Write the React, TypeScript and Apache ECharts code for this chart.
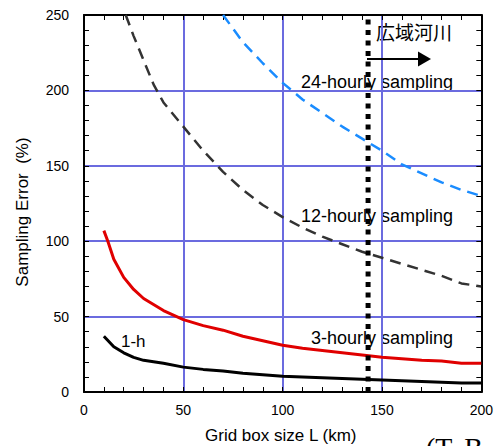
import React, { useEffect, useRef } from "react";
import * as echarts from "echarts";

const xTicks = [0, 50, 100, 150, 200];
const yTicks = [0, 50, 100, 150, 200, 250];

const h1X = [10, 15, 20, 25, 30, 40, 50, 60, 70, 80, 90, 100, 110, 120, 130, 140, 150, 160, 170, 180, 190, 200];
const h1Y = [37, 30, 26, 23, 21, 19, 16.5, 15, 14, 12.5, 11.5, 10.5, 10, 9.5, 9, 8.5, 8, 7.5, 7, 6.5, 6, 6];

const h3X = [10, 12, 15, 20, 25, 30, 40, 50, 60, 70, 80, 90, 100, 110, 120, 130, 140, 150, 160, 170, 180, 190, 200];
const h3Y = [107, 100, 88, 76, 68, 62, 54, 48, 44, 41, 37, 34, 31, 29, 27.5, 26, 24.5, 23, 22, 21, 20.5, 19, 19];

const h12X = [21, 25, 30, 35, 40, 50, 60, 70, 80, 90, 100, 110, 120, 130, 140, 150, 160, 170, 180, 190, 200];
const h12Y = [250, 236, 220, 204, 192, 176, 160, 146, 134, 124, 116, 109, 103, 98, 93, 89, 85, 81, 77, 72, 70];

const h24X = [70, 80, 90, 100, 110, 120, 130, 140, 150, 160, 170, 180, 190, 200];
const h24Y = [250, 232, 218, 205, 194, 185, 176, 168, 160, 151, 145, 139, 134, 130];

const boundaryX = 143;
const seriesLabels = ["24-hourly sampling", "12-hourly sampling", "3-hourly sampling", "1-h"];
const regionLabel = "広域河川";

const zip = (xs: number[], ys: number[]) => xs.map((x, i) => [x, ys[i]]);

export default function App() {
  const ref = useRef<HTMLDivElement>(null);
  useEffect(() => {
    if (!ref.current) return;
    const chart = echarts.init(ref.current, null, { renderer: "svg" });
    const font = "Arial, 'Liberation Sans', sans-serif";
    const gridBlue = "#6b6bdf";
    const axisCommon = {
      min: 0,
      type: "value" as const,
      interval: 50,
      axisLine: { show: true, onZero: false, lineStyle: { color: "#000", width: 2 } },
      axisTick: { show: true, inside: true, length: 5, lineStyle: { color: "#000", width: 1 } },
      minorTick: { show: true, splitNumber: 5, length: 5, lineStyle: { color: "#000", width: 1 } },
    };
    chart.setOption({
      animation: false,
      backgroundColor: "#fff",
      grid: { left: 84, top: 15, right: 11, bottom: 54 },
      xAxis: [
        {
          ...axisCommon,
          max: 200,
          position: "bottom",
          axisLabel: { fontSize: 14, color: "#000", fontFamily: font, margin: 11 },
          splitLine: { show: true, lineStyle: { color: gridBlue, width: 2 } },
        },
        {
          ...axisCommon,
          max: 200,
          position: "top",
          axisLabel: { show: false },
          splitLine: { show: false },
        },
      ],
      yAxis: [
        {
          ...axisCommon,
          max: 250,
          position: "left",
          axisLabel: { fontSize: 14, color: "#000", fontFamily: font, margin: 15 },
          splitLine: { show: true, lineStyle: { color: gridBlue, width: 2 } },
        },
        {
          ...axisCommon,
          max: 250,
          position: "right",
          axisLabel: { show: false },
          splitLine: { show: false },
        },
      ],
      series: [
        {
          type: "line",
          data: zip(h24X, h24Y),
          showSymbol: false,
          lineStyle: { color: "#1a8cff", width: 2.5, type: [11, 7] },
        },
        {
          type: "line",
          data: zip(h12X, h12Y),
          showSymbol: false,
          lineStyle: { color: "#333333", width: 2.5, type: [11, 7] },
        },
        {
          type: "line",
          data: zip(h3X, h3Y),
          showSymbol: false,
          lineStyle: { color: "#e00000", width: 3 },
        },
        {
          type: "line",
          data: zip(h1X, h1Y),
          showSymbol: false,
          lineStyle: { color: "#000", width: 3 },
        },
        {
          type: "line",
          data: [
            [boundaryX, 0],
            [boundaryX, 250],
          ],
          showSymbol: false,
          z: 5,
          lineStyle: { color: "#000", width: 5, type: [5, 5.5] },
        },
      ],
      graphic: [
        {
          type: "text",
          right: 496 - 453,
          top: 73,
          style: { text: seriesLabels[0], fontSize: 18, fontFamily: font, fill: "#000" },
        },
        {
          type: "text",
          right: 496 - 453,
          top: 207,
          style: { text: seriesLabels[1], fontSize: 18, fontFamily: font, fill: "#000" },
        },
        {
          type: "text",
          right: 496 - 453,
          top: 329,
          style: { text: seriesLabels[2], fontSize: 18, fontFamily: font, fill: "#000" },
        },
        {
          type: "text",
          left: 121,
          top: 333,
          style: { text: seriesLabels[3], fontSize: 17, fontFamily: font, fill: "#000" },
        },
        {
          type: "text",
          left: 376,
          top: 22,
          style: { text: regionLabel, fontSize: 19, fontFamily: "'Noto Sans CJK JP', sans-serif", fill: "#000" },
        },
        {
          type: "line",
          shape: { x1: 367, y1: 59, x2: 420, y2: 59 },
          style: { stroke: "#000", lineWidth: 2 },
          z: 10,
        },
        {
          type: "polygon",
          shape: { points: [[418, 51.5], [431, 59], [418, 66.5]] },
          style: { fill: "#000" },
          z: 10,
        },
        {
          type: "text",
          left: 205,
          top: 427,
          style: { text: "Grid box size L (km)", fontSize: 17, fontFamily: font, fill: "#000" },
        },
        {
          type: "text",
          x: 22,
          y: 212,
          rotation: Math.PI / 2,
          style: {
            text: "Sampling Error  (%)",
            fontSize: 17,
            fontFamily: font,
            fill: "#000",
            align: "center",
            verticalAlign: "middle",
          },
          originX: 0,
          originY: 0,
        },
        {
          type: "text",
          left: 426,
          top: 433,
          style: { text: "(T. B", fontSize: 28, fontFamily: "'Liberation Serif', serif", fill: "#000" },
        },
      ],
    });
    return () => chart.dispose();
  }, []);
  return <div ref={ref} style={{ position: "fixed", left: 0, top: 0, width: 496, height: 446 }} />;
}
